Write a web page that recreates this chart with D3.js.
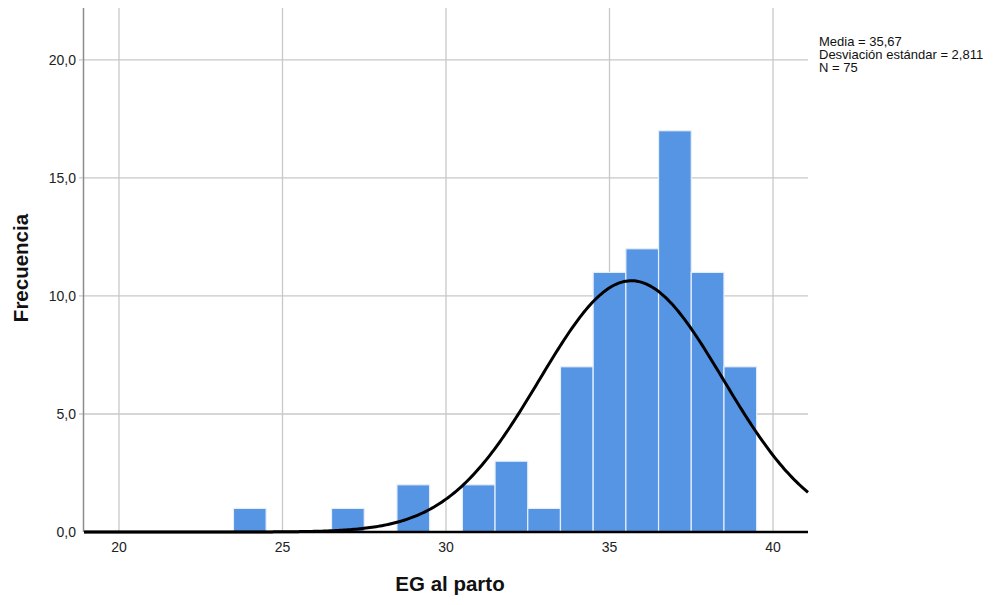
<!DOCTYPE html>
<html>
<head>
<meta charset="utf-8">
<script src="https://cdn.jsdelivr.net/npm/d3@7"></script>
<style>
  body { margin: 0; padding: 0; background: #fff; }
  svg text { font-family: "Liberation Sans", Arial, sans-serif; }
</style>
</head>
<body>
<div id="main"></div>
<script>
// bins of width 1 (lower edge) and their counts
const binStarts = [23.5, 26.5, 28.5, 30.5, 31.5, 32.5, 33.5, 34.5, 35.5, 36.5, 37.5, 38.5];
const binCounts = [1, 1, 2, 2, 3, 1, 7, 11, 12, 17, 11, 7];
const xTicks = [20, 25, 30, 35, 40];
const yTicks = [0, 5, 10, 15, 20];
const MEAN = 35.67;
const SD = 2.811;
const N = 75;
const BINWIDTH = 1;
const legendLines = ['Media = 35,67', 'Desviación estándar = 2,811', 'N = 75'];

const W = 1003, H = 605;
const plot = {left: 84, right: 808, top: 8, bottom: 532};

const svg = d3.select('#main').append('svg').attr('width', W).attr('height', H);

const x = d3.scaleLinear().domain([18.93, 41.07]).range([plot.left, plot.right]);
const y = d3.scaleLinear().domain([0, 22.2]).range([plot.bottom, plot.top]);

// grid lines
svg.append('g').selectAll('line').data(xTicks).enter().append('line')
    .attr('x1', (d) => x(d)).attr('x2', (d) => x(d))
    .attr('y1', plot.top).attr('y2', plot.bottom)
    .attr('stroke', '#c8c8c8').attr('stroke-width', 1.3);
svg.append('g').selectAll('line').data(yTicks.filter((d) => d > 0)).enter().append('line')
    .attr('x1', plot.left - 5).attr('x2', plot.right)
    .attr('y1', (d) => y(d)).attr('y2', (d) => y(d))
    .attr('stroke', '#c8c8c8').attr('stroke-width', 1.3);

// bars
svg.append('g').selectAll('rect').data(binStarts).enter().append('rect')
    .attr('x', (d) => x(d))
    .attr('width', (d) => x(d + BINWIDTH) - x(d))
    .attr('y', (d, i) => y(binCounts[i]))
    .attr('height', (d, i) => y(0) - y(binCounts[i]))
    .attr('fill', '#5595e4')
    .attr('stroke', '#e6effa')
    .attr('stroke-width', 1.2);

// y axis line
svg.append('line')
    .attr('x1', plot.left - 0.5).attr('x2', plot.left - 0.5)
    .attr('y1', plot.top).attr('y2', plot.bottom)
    .attr('stroke', '#8c8c8c').attr('stroke-width', 1.5);

// normal curve from the stated statistics
const curveXs = d3.range(plot.left, plot.right + 1, 2).map((px) => x.invert(px));
const normal = (v) => N * BINWIDTH / (SD * Math.sqrt(2 * Math.PI)) * Math.exp(-0.5 * Math.pow((v - MEAN) / SD, 2));
svg.append('path')
    .datum(curveXs)
    .attr('d', d3.line().x((d) => x(d)).y((d) => y(normal(d))))
    .attr('fill', 'none')
    .attr('stroke', '#000')
    .attr('stroke-width', 3);

// x axis line
svg.append('line')
    .attr('x1', plot.left).attr('x2', plot.right)
    .attr('y1', plot.bottom).attr('y2', plot.bottom)
    .attr('stroke', '#000').attr('stroke-width', 2.5);

// tick labels
svg.append('g').selectAll('text').data(xTicks).enter().append('text')
    .attr('x', (d) => x(d)).attr('y', plot.bottom + 20)
    .attr('text-anchor', 'middle').attr('font-size', 14).attr('fill', '#222')
    .text((d) => d);
svg.append('g').selectAll('text').data(yTicks).enter().append('text')
    .attr('x', plot.left - 8).attr('y', (d) => y(d) + 5)
    .attr('text-anchor', 'end').attr('font-size', 14).attr('fill', '#222')
    .text((d) => d3.format('.1f')(d).replace('.', ','));

// axis titles
svg.append('text')
    .attr('x', 450).attr('y', 591)
    .attr('text-anchor', 'middle').attr('font-size', 20.5).attr('font-weight', 'bold').attr('fill', '#111')
    .text('EG al parto');
svg.append('text')
    .attr('transform', `translate(28, 268) rotate(-90)`)
    .attr('text-anchor', 'middle').attr('font-size', 20.5).attr('font-weight', 'bold').attr('fill', '#111')
    .text('Frecuencia');

// stats legend
svg.append('g').selectAll('text').data(legendLines).enter().append('text')
    .attr('x', 819).attr('y', (d, i) => 46 + i * 13)
    .attr('font-size', 13).attr('fill', '#111')
    .text((d) => d);
</script>
</body>
</html>
